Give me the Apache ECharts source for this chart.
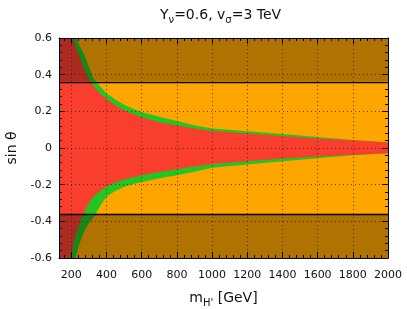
<!DOCTYPE html>
<html>
<head>
<meta charset="utf-8">
<script src="https://cdn.jsdelivr.net/npm/echarts@6/dist/echarts.min.js"></script>
<style>html,body{margin:0;padding:0;background:#fff}#c{width:407px;height:309px}</style>
</head>
<body>
<div id="c"></div>
<script>
const xMin = 130, xMax = 2000;
const xTicks = [200, 400, 600, 800, 1000, 1200, 1400, 1600, 1800, 2000];
const yTicks = [-0.6, -0.4, -0.2, 0, 0.2, 0.4, 0.6];
const mass       = [130, 160, 180, 200, 220, 240, 260, 280, 300, 325, 350, 375, 400, 450, 500, 550, 600, 700, 800, 900, 1000, 1200, 1400, 1600, 1800, 2000];
const upperRed   = [0.98, 0.78, 0.70, 0.625, 0.565, 0.51, 0.465, 0.41, 0.375, 0.34, 0.311, 0.288, 0.268, 0.233, 0.206, 0.185, 0.168, 0.141, 0.123, 0.106, 0.093, 0.079, 0.066, 0.052, 0.042, 0.030];
const upperGreen = [1.10, 0.87, 0.77, 0.69, 0.625, 0.57, 0.535, 0.495, 0.44, 0.38, 0.352, 0.325, 0.298, 0.264, 0.236, 0.214, 0.196, 0.170, 0.147, 0.124, 0.106, 0.091, 0.077, 0.060, 0.044, 0.030];
const lowerRed   = [-1.00, -0.82, -0.69, -0.575, -0.49, -0.43, -0.38, -0.34, -0.30, -0.265, -0.245, -0.226, -0.21, -0.188, -0.172, -0.16, -0.149, -0.131, -0.116, -0.101, -0.087, -0.072, -0.057, -0.046, -0.037, -0.028];
const lowerGreen = [-1.15, -0.95, -0.82, -0.71, -0.615, -0.54, -0.485, -0.44, -0.41, -0.38, -0.34, -0.30, -0.265, -0.235, -0.213, -0.197, -0.185, -0.165, -0.149, -0.13, -0.108, -0.090, -0.072, -0.056, -0.040, -0.028];
const bandEdge = 0.365;

const FONT = 'DejaVu Sans';
const minorX = [];
for (let v = 160; v < xMax; v += 40) minorX.push(v);

const chart = echarts.init(document.getElementById('c'), null, {renderer: 'canvas'});
const gridRect = {left: 59, right: 19, top: 38, bottom: 51, outerBoundsMode: 'none', containLabel: false};

function regionSeries(name, lower, upper, color, z) {
  return {
    name, type: 'custom', coordinateSystem: 'cartesian2d', clip: true, silent: true, z,
    encode: {x: 0, y: [1, 2]},
    data: mass.map((m, i) => [m, lower[i], upper[i]]),
    renderItem: function (params, api) {
      if (params.dataIndex !== 0) return null;
      const pts = [];
      for (let i = 0; i < mass.length; i++) pts.push(api.coord([mass[i], upper[i]]));
      for (let i = mass.length - 1; i >= 0; i--) pts.push(api.coord([mass[i], lower[i]]));
      const cs = params.coordSys;
      return {
        type: 'group',
        clipPath: {type: 'rect', shape: {x: cs.x, y: cs.y, width: cs.width, height: cs.height}},
        children: [{type: 'polygon', shape: {points: pts, smooth: 0}, style: {fill: color, stroke: null}}]
      };
    }
  };
}

const richName = {
  n: {fontFamily: FONT, fontSize: 14, color: '#111', lineHeight: 17, verticalAlign: 'top', fontWeight: 'normal'},
  s: {fontFamily: FONT, fontSize: 10, color: '#111', lineHeight: 7, verticalAlign: 'bottom', fontWeight: 'normal'}
};
const axisLineStyle = {show: true, onZero: false, lineStyle: {color: '#000', width: 1}};
const hidden = {show: false};

const option = {
  animation: false,
  title: {
    text: '{n|Y}{s|ν}{n|=0.6, v}{s|σ}{n|=3 TeV}',
    left: 155, top: 3,
    textStyle: {fontWeight: 'normal', rich: richName}
  },
  grid: [
    Object.assign({show: true, backgroundColor: '#FFA500', borderWidth: 0}, gridRect),
    Object.assign({show: false}, gridRect)
  ],
  xAxis: [
    {
      gridIndex: 0, type: 'value', position: 'bottom', min: xMin, max: xMax, z: 6,
      axisLine: axisLineStyle,
      axisTick: {show: true, inside: true, length: 3, customValues: minorX, lineStyle: {color: '#000'}},
      axisLabel: {customValues: xTicks, fontFamily: FONT, fontSize: 11, color: '#111', margin: 12,
                  formatter: v => String(v)},
      splitLine: hidden,
      name: '{n|m}{s|H\'}{n| [GeV]}', nameLocation: 'middle', nameGap: 33,
      nameTextStyle: {rich: richName}
    },
    {
      gridIndex: 0, type: 'value', position: 'top', min: xMin, max: xMax, z: 6,
      axisLine: axisLineStyle,
      axisTick: {show: true, inside: true, length: 3, customValues: minorX, lineStyle: {color: '#000'}},
      axisLabel: hidden, splitLine: hidden
    },
    {
      gridIndex: 1, type: 'value', position: 'bottom', min: xMin, max: xMax, z: 6,
      axisLine: {show: false, onZero: false},
      axisTick: {show: true, inside: true, length: 6, customValues: xTicks, lineStyle: {color: '#000'}},
      axisLabel: hidden, splitLine: hidden
    },
    {
      gridIndex: 1, type: 'value', position: 'top', min: xMin, max: xMax, z: 6,
      axisLine: {show: false, onZero: false},
      axisTick: {show: true, inside: true, length: 6, customValues: xTicks, lineStyle: {color: '#000'}},
      axisLabel: hidden, splitLine: hidden
    }
  ],
  yAxis: [
    {
      gridIndex: 0, type: 'value', position: 'left', min: -0.6, max: 0.6, interval: 0.2, z: 6,
      axisLine: axisLineStyle,
      axisTick: {show: true, inside: true, length: 6, lineStyle: {color: '#000'}},
      minorTick: {show: true, splitNumber: 5, length: 3, lineStyle: {color: '#000'}},
      axisLabel: {fontFamily: FONT, fontSize: 11, color: '#111', margin: 7},
      splitLine: hidden,
      name: 'sin θ', nameLocation: 'middle', nameGap: 37,
      nameTextStyle: {fontFamily: FONT, fontSize: 14, color: '#111'}
    },
    {
      gridIndex: 0, type: 'value', position: 'right', min: -0.6, max: 0.6, interval: 0.2, z: 6,
      axisLine: axisLineStyle,
      axisTick: {show: true, inside: true, length: 6, lineStyle: {color: '#000'}},
      minorTick: {show: true, splitNumber: 5, length: 3, lineStyle: {color: '#000'}},
      axisLabel: hidden, splitLine: hidden
    },
    {
      gridIndex: 1, type: 'value', min: -0.6, max: 0.6, show: false
    }
  ],
  series: [
    regionSeries('green', lowerGreen, upperGreen, '#22C522', 2),
    regionSeries('red', lowerRed, upperRed, '#F93E2E', 3),
    {
      name: 'overlay', type: 'line', data: [], z: 4, silent: true,
      markArea: {
        z: 4, silent: true,
        itemStyle: {color: 'rgba(0,0,0,0.31)'},
        data: [
          [{yAxis: bandEdge}, {yAxis: 0.6}],
          [{yAxis: -0.6}, {yAxis: -bandEdge}]
        ]
      },
      markLine: {
        z: 5, silent: true, symbol: ['none', 'none'], label: {show: false},
        data: [
          ...xTicks.filter(v => v < xMax).map(v => ({xAxis: v, lineStyle: {color: 'rgba(40,20,0,0.75)', width: 1, type: [1, 3]}})),
          ...yTicks.filter(v => Math.abs(v) < 0.6).map(v => ({yAxis: v, lineStyle: {color: 'rgba(40,20,0,0.75)', width: 1, type: [1, 3]}})),
          {yAxis: bandEdge, lineStyle: {color: '#000', width: 1.3, type: 'solid'}},
          {yAxis: -bandEdge, lineStyle: {color: '#000', width: 1.3, type: 'solid'}}
        ]
      }
    }
  ]
};
chart.setOption(option);
</script>
</body>
</html>
